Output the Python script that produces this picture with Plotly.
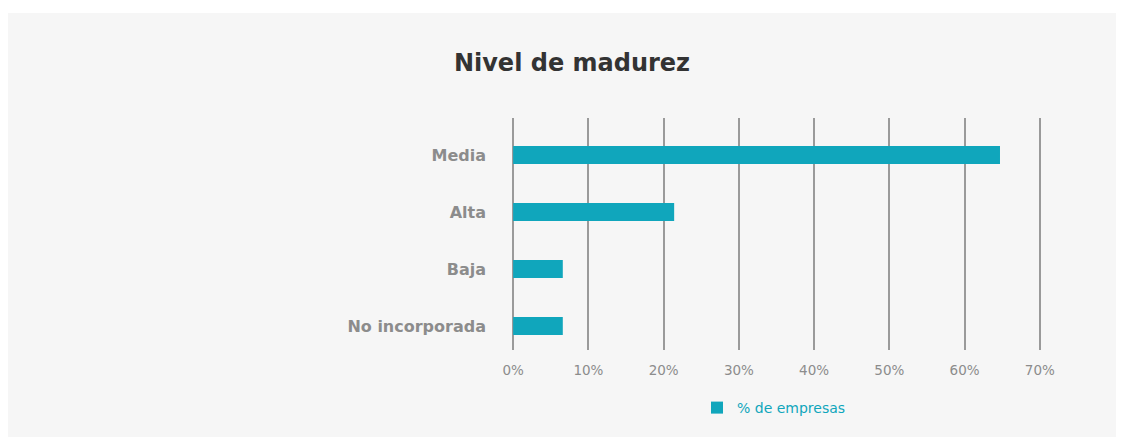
import plotly.graph_objects as go

categories = ["Media", "Alta", "Baja", "No incorporada"]
values = [64.7, 21.4, 6.6, 6.6]
tick_vals = [0, 10, 20, 30, 40, 50, 60, 70]
tick_text = ["0%", "10%", "20%", "30%", "40%", "50%", "60%", "70%"]
series_name = "% de empresas"

# page body has an 8px margin; figure coordinates are screen - 8
W, H = 1116, 436
L, R, T, B = 504, 1033, 110, 342

fig = go.Figure()
fig.add_trace(go.Bar(
    x=values, y=categories, orientation="h", name=series_name,
    marker=dict(color="#10A6BC", line=dict(width=0)), width=0.315,
    showlegend=True,
))

pw, ph = R - L, B - T
def px(x): return (x - L) / pw
def py(y): return (B - y) / ph

FONT = "DejaVu Sans"
fig.update_layout(
    width=W, height=H,
    margin=dict(l=L, r=W - R, t=T, b=H - B, pad=0),
    paper_bgcolor="white", plot_bgcolor="rgba(0,0,0,0)",
    title=dict(text="<b>Nivel de madurez</b>", x=px(564), xref="paper", xanchor="center",
               y=1 - 55 / H, yanchor="middle",
               font=dict(family=FONT, size=24, color="#333333")),
    xaxis=dict(range=[-0.15, 70.15], tickvals=tick_vals, ticktext=tick_text,
               showgrid=True, gridcolor="#9a9a9a", gridwidth=2,
               zeroline=False, showline=False, ticks="", ticklabelstandoff=10,
               tickfont=dict(family=FONT, size=13.5, color="#8c8c8c"), fixedrange=True),
    yaxis=dict(categoryorder="array", categoryarray=categories,
               range=[3.421, -0.649],
               showgrid=False, zeroline=False, showline=False, ticks="",
               ticklabelstandoff=25,
               tickfont=dict(family=FONT, size=16, color="#8c8c8c", weight="bold")),
    legend=dict(orientation="h", x=px(689), xanchor="left", y=py(400), yanchor="middle",
                font=dict(family=FONT, size=14, color="#10A6BC"),
                bgcolor="rgba(0,0,0,0)"),
    shapes=[dict(type="rect", xref="paper", yref="paper", layer="below",
                 x0=px(0), x1=px(1116), y0=py(429), y1=py(5),
                 fillcolor="#f6f6f6", line=dict(width=0))],
)

fig.write_html("out.html")
